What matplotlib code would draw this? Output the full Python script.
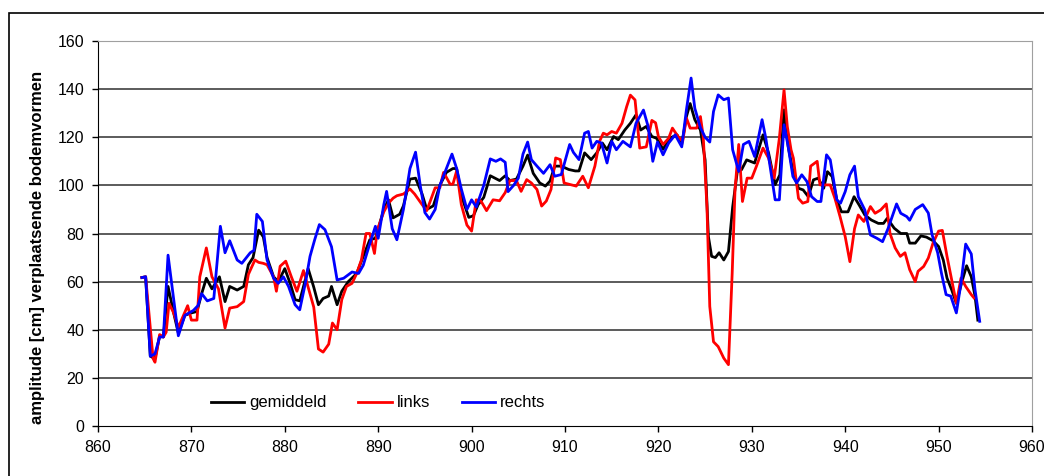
import matplotlib.pyplot as plt
import matplotlib.patches as patches

plt.rcParams['font.family'] = ['Liberation Sans', 'DejaVu Sans']

# rechts (blauw)
x_rechts = [864.7, 865.1, 865.6, 866.1, 866.6, 867.0, 867.5, 868.6, 869.3, 870.2, 870.7, 871.1,
            871.7, 872.4, 873.1, 873.6, 874.1, 874.9, 875.4, 876.3, 876.7, 877.0, 877.6, 878.1,
            878.8, 879.3, 879.85, 880.4, 881.1, 881.6, 882.2, 882.7, 883.2, 883.7, 884.3, 885.0,
            885.6, 886.3, 887.2, 887.9, 888.4, 889.0, 889.7, 890.0, 890.6, 890.9, 891.5, 892.0,
            892.7, 893.4, 894.0, 894.5, 895.0, 895.5, 896.1, 896.6, 897.2, 897.9, 898.4, 898.9,
            899.5, 900.0, 900.5, 901.3, 902.0, 902.6, 903.1, 903.6, 903.9, 904.5, 905.0, 905.5,
            906.0, 906.4, 907.0, 907.7, 908.4, 908.9, 909.6, 910.5, 910.9, 911.5, 912.1, 912.5,
            912.9, 913.4, 913.9, 914.5, 915.0, 915.5, 916.2, 917.0, 917.6, 918.4, 918.9, 919.4,
            919.9, 920.5, 921.1, 921.8, 922.5, 923.0, 923.5, 923.9, 924.5, 925.0, 925.5, 925.9,
            926.4, 927.0, 927.5, 927.95, 928.6, 929.1, 929.7, 930.3, 931.1, 931.5, 932.1, 932.5,
            932.95, 933.45, 933.9, 934.4, 934.8, 935.35, 935.9, 936.4, 937.0, 937.4, 938.0, 938.4,
            939.1, 939.5, 940.0, 940.5, 941.0, 941.4, 942.1, 942.7, 943.4, 944.0, 944.6, 945.5,
            945.95, 946.6, 946.9, 947.5, 948.3, 948.9, 949.3, 949.9, 950.3, 950.8, 951.3, 951.9,
            952.4, 952.9, 953.5, 953.9, 954.4]
y_rechts = [61.7, 62, 29, 30, 37, 37, 71, 37.5, 46, 48, 50, 55,
            52, 53, 83, 72, 77, 69, 67.6, 72, 73, 88, 85, 69,
            61.4, 59.3, 62, 58, 50.4, 48.3, 59.3, 70.5, 77.4, 83.7, 81.6, 74.5,
            60.7, 61.4, 64, 63.4, 66.8, 74.5, 83, 78, 92, 97.5, 82, 77.4,
            90, 107, 113.8, 100, 88.7, 86, 90, 100, 106, 113, 107, 98.5,
            90, 94, 91, 100, 111, 110, 111, 109.6, 97.4, 100, 103, 113,
            118, 110.7, 108, 105, 108.6, 103.8, 104.5, 117, 113.7, 110.7, 121.7, 122.4,
            115.5, 118.3, 117.6, 109.3, 118.3, 114.8, 118.3, 116, 125.8, 131.3, 124.5, 110,
            118, 112.7, 117.6, 121, 116, 131.4, 144.6, 132, 124, 120, 118, 130.7,
            137.6, 135.6, 136.3, 114.8, 105.8, 117, 118.3, 112, 127.3, 119.6, 104.4, 94,
            94, 125.2, 116, 103.7, 101, 104.4, 101.6, 95.3, 93.3, 93.3, 112.7, 110.6,
            94, 92.6, 97.4, 104.4, 108, 95.3, 89.8, 79.4, 78, 76.6, 82.2, 92.3,
            88.4, 87, 85.5, 90, 92, 88.5, 79.5, 72, 63.6, 54.6, 54, 47,
            59.4, 75.6, 71.5, 56.6, 43.5]

# links (rood)
x_links = [864.7, 865.1, 865.9, 866.1, 866.6, 867.0, 867.3, 867.6, 868.1, 868.6, 869.1, 869.6,
           870.0, 870.6, 870.9, 871.6, 872.2, 872.9, 873.6, 874.1, 874.9, 875.6, 876.1, 876.8,
           877.2, 877.7, 878.1, 878.8, 879.1, 879.5, 880.1, 880.7, 881.3, 882.0, 882.5, 883.1,
           883.6, 884.1, 884.7, 885.1, 885.6, 886.1, 886.6, 887.2, 887.7, 888.2, 888.7, 889.1,
           889.6, 889.9, 890.6, 891.1, 891.6, 892.0, 892.7, 893.4, 893.9, 894.7, 895.2, 896.1,
           896.6, 897.0, 897.7, 898.0, 898.4, 898.9, 899.5, 900.0, 900.5, 901.0, 901.6, 902.3,
           903.0, 903.6, 904.1, 904.8, 905.3, 905.9, 906.4, 907.0, 907.5, 908.0, 908.5, 909.0,
           909.5, 909.9, 910.5, 911.2, 911.9, 912.5, 913.2, 913.7, 914.1, 914.5, 915.0, 915.5,
           916.1, 916.6, 917.0, 917.5, 918.0, 918.7, 919.3, 919.7, 920.0, 920.5, 921.1, 921.5,
           922.1, 922.6, 923.0, 923.4, 924.1, 924.5, 924.8, 925.2, 925.5, 925.9, 926.4, 927.0,
           927.5, 927.9, 928.2, 928.6, 929.0, 929.5, 930.0, 930.5, 931.2, 931.8, 932.4, 932.95,
           933.45, 933.8, 934.2, 934.45, 935.0, 935.45, 936.0, 936.3, 937.0, 937.3, 938.4, 938.9,
           939.45, 940.0, 940.5, 941.0, 941.4, 942.0, 942.7, 943.2, 943.8, 944.4, 944.8, 945.35,
           945.9, 946.4, 946.9, 947.5, 947.8, 948.4, 948.9, 949.4, 950.0, 950.4, 950.9, 951.4,
           951.9, 952.4, 952.9, 953.5, 953.8]
y_links = [61.7, 62, 28, 26.5, 38, 37, 39, 51, 47, 41, 45.5, 50,
           44, 44, 62, 74, 62, 57, 40.7, 49, 49.6, 51.7, 63, 69,
           68, 67.6, 67, 62, 56, 66.4, 68.5, 62, 56, 64.6, 57.7, 49.4,
           32, 30.7, 34, 42.8, 40, 52.5, 58, 59.3, 63.4, 69, 80, 80,
           71.7, 81.4, 89, 92.6, 94.7, 95.7, 96.4, 98.5, 96.4, 92, 89.5, 99,
           99, 105.4, 100.5, 100.5, 106, 92, 83.5, 81, 94, 93.5, 89.5, 94,
           93.6, 97, 102, 102, 97.5, 102.4, 101, 98.3, 91.4, 93.5, 98.3, 111.4,
           110.7, 101, 100.4, 99.7, 103.8, 99, 108, 118.3, 121.7, 121, 122.4, 121.7,
           125.8, 132.7, 137.5, 135.5, 115.5, 116, 127, 126, 120.3, 117, 119.6, 123.8,
           120.3, 118.3, 128, 123.8, 123.8, 128.6, 120.3, 91, 49.7, 35, 33, 28.2,
           25.5, 63.5, 98, 117, 93.3, 103, 103, 108, 115.5, 111.3, 103, 119.6,
           139.7, 124.5, 114.8, 111.3, 94.6, 92.6, 93.3, 108, 110, 100.2, 100.2, 94.6,
           87, 78.7, 68.3, 82, 87.7, 85, 91.2, 88.4, 89.8, 92.3, 80, 74,
           70.5, 72, 65, 60, 64.3, 66.3, 69.8, 76, 81, 81.3, 70.5, 60.8,
           51, 61.5, 58, 54.6, 53.2]

# gemiddeld (zwart)
x_gem = [864.7, 865.1, 865.6, 866.1, 866.6, 867.0, 867.5, 868.1, 868.6, 869.3, 870.0, 870.6,
         871.1, 871.6, 872.2, 873.0, 873.6, 874.1, 874.9, 875.6, 876.1, 876.6, 877.2, 877.7,
         878.1, 878.8, 879.3, 880.0, 880.6, 881.1, 881.6, 882.5, 883.1, 883.6, 884.1, 884.7,
         885.0, 885.6, 886.1, 886.8, 887.7, 888.4, 889.1, 889.7, 890.6, 891.1, 891.6, 892.3,
         892.7, 893.4, 894.0, 894.7, 895.2, 895.9, 896.6, 897.3, 898.0, 898.4, 898.9, 899.7,
         900.2, 900.7, 901.3, 902.0, 902.5, 903.0, 903.6, 904.1, 904.8, 905.5, 906.0, 906.6,
         907.3, 907.9, 908.4, 908.9, 909.6, 910.4, 911.1, 911.5, 912.1, 912.8, 913.4, 914.0,
         914.5, 915.2, 915.7, 916.4, 917.0, 917.6, 918.1, 918.7, 919.3, 919.8, 920.5, 921.2,
         922.0, 922.5, 923.0, 923.4, 923.9, 924.5, 925.0, 925.35, 925.7, 926.1, 926.5, 927.0,
         927.5, 927.95, 928.45, 928.9, 929.45, 930.3, 931.2, 931.8, 932.5, 933.0, 933.45, 933.9,
         934.45, 935.0, 935.5, 936.05, 936.6, 937.1, 937.7, 938.1, 938.6, 939.1, 939.6, 940.3,
         940.95, 941.5, 942.1, 942.8, 943.55, 944.1, 944.5, 945.25, 945.95, 946.6, 946.9, 947.5,
         948.1, 948.7, 949.4, 950.0, 950.5, 950.9, 951.4, 951.9, 952.5, 953.0, 953.5, 953.9,
         954.2]
y_gem = [61.7, 62, 29, 28, 37.5, 37, 58, 47, 38.6, 46, 47, 47.6,
         55, 61.4, 57, 62, 51.7, 58, 56.5, 58, 67, 70, 81.4, 78.6,
         70, 62, 60, 65.4, 59, 52.5, 52, 65.4, 57.7, 50.4, 53, 54,
         58, 50.4, 56, 60, 63.4, 70.5, 77.4, 78, 90, 94, 86.5, 88,
         91.5, 102.6, 103, 96.4, 90, 91.5, 100, 105.4, 107, 107, 95.7, 86.7,
         87.4, 92, 95, 104, 103, 102, 104, 102, 102.6, 108, 112.6, 105,
         101, 99.7, 101.8, 108, 108, 106.6, 106, 106, 113.5, 110.7, 113.5, 117.6,
         114.8, 120.3, 119, 123, 125.8, 129.3, 123, 124.5, 120.3, 119.6, 115, 119.6,
         121, 117, 128.6, 134, 127.3, 123, 110.6, 78.8, 70.5, 70, 72, 69,
         72.5, 91, 105.8, 106.5, 110.6, 109.3, 121, 113.4, 100.3, 104.4, 131.4, 116,
         105, 98.8, 98.1, 95.3, 102.3, 103, 98.8, 105.7, 103.7, 94, 89, 89,
         95.3, 91.8, 87.7, 85.6, 84.2, 84.2, 86.3, 82.2, 80, 80, 76, 76,
         79, 78.5, 77, 74.6, 69, 61.5, 56.6, 51, 60, 66.6, 62, 54,
         44]

x_ticks = [860, 870, 880, 890, 900, 910, 920, 930, 940, 950, 960]
y_ticks = [0, 20, 40, 60, 80, 100, 120, 140, 160]

fig = plt.figure(figsize=(10.44, 4.76), dpi=100)
ax = fig.add_axes([98 / 1044, 1 - 426 / 476, (1032 - 98) / 1044, (426 - 41) / 476])

# kader om de hele grafiek
fig.patches.append(patches.Rectangle((9 / 1044, -0.1), 1.2, 1 - 13 / 476 + 0.1,
                                     transform=fig.transFigure, fill=False,
                                     edgecolor='black', linewidth=1.2))

for yv in y_ticks[1:-1]:
    ax.axhline(yv, color='#404040', linewidth=1.2, zorder=1)

ax.plot(x_gem, y_gem, color='black', linewidth=2.0, label='gemiddeld', zorder=3)
ax.plot(x_links, y_links, color='#ff0000', linewidth=2.0, label='links', zorder=3)
ax.plot(x_rechts, y_rechts, color='#0000ff', linewidth=2.0, label='rechts', zorder=3)

ax.set_xlim(860, 960)
ax.set_ylim(0, 160)
ax.set_xticks(x_ticks)
ax.set_yticks(y_ticks)
ax.tick_params(axis='both', direction='out', length=4, width=1, labelsize=11.5, pad=6)

ax.spines['left'].set_color('black')
ax.spines['bottom'].set_color('black')
ax.spines['top'].set_color('#a0a0a0')
ax.spines['right'].set_color('#a0a0a0')

ax.set_ylabel('amplitude [cm] verplaatsende bodemvormen', fontsize=12,
              fontweight='bold')
ax.yaxis.set_label_coords(-0.057, 0.465)

ax.legend(loc='center', bbox_to_anchor=(0.3, 0.06), ncol=3, frameon=False,
          fontsize=12, handlelength=2.0, handletextpad=0.3, columnspacing=1.9)

fig.savefig('out.png', dpi=100)
